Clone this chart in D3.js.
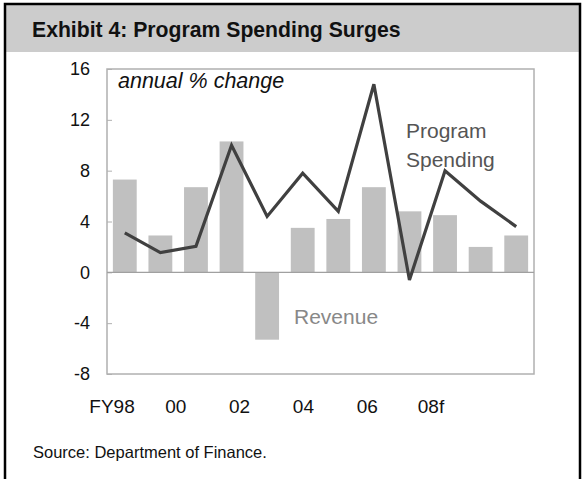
<!DOCTYPE html>
<html>
<head>
<meta charset="utf-8">
<script src="https://cdn.jsdelivr.net/npm/d3@7"></script>
<style>
  body { margin: 0; background: #fff; }
  svg text { font-family: "Liberation Sans", Arial, sans-serif; }
</style>
</head>
<body>
<div id="chart"></div>
<script>
// data
var years = ["98", "99", "00", "01", "02", "03", "04", "05", "06", "07", "08", "09"];
var revenue = [7.3, 2.9, 6.7, 10.3, -5.3, 3.5, 4.2, 6.7, 4.8, 4.5, 2.0, 2.9];
var spending = [3.1, 1.55, 2.05, 10.0, 4.4, 7.8, 4.8, 14.8, -0.6, 8.0, 5.6, 3.6];
var yTicks = [-8, -4, 0, 4, 8, 12, 16];
var xLabels = ["FY98", "00", "02", "04", "06", "08f"];

var W = 582, H = 479;
var plot = {left: 107, right: 534, top: 69, bottom: 374};

var svg = d3.select("#chart").append("svg")
  .attr("width", W)
  .attr("height", H);

// frame + title band
svg.append("rect")
  .attr("x", 0).attr("y", 0)
  .attr("width", W).attr("height", H)
  .style("fill", "#fff");

svg.append("rect")
  .attr("x", 5).attr("y", 4)
  .attr("width", 575).attr("height", 48)
  .style("fill", "#cccccc");

svg.append("path")
  .attr("d", "M5," + H + "V4H580V" + H)
  .style("fill", "none")
  .style("stroke", "#000")
  .style("stroke-width", 2.5);

svg.append("text")
  .attr("x", 32)
  .attr("y", 37)
  .style("font-size", "21.2px")
  .style("font-weight", "bold")
  .style("fill", "#111")
  .text("Exhibit 4: Program Spending Surges");

// scales
var x = d3.scaleBand()
  .domain(years)
  .range([plot.left, plot.right])
  .paddingInner(0.33)
  .paddingOuter(0.165);

var y = d3.scaleLinear()
  .domain([-8, 16])
  .range([plot.bottom, plot.top]);

// x labels sit on their own spacing, as in the original
var xl = d3.scalePoint()
  .domain(xLabels)
  .range([112, 431]);

// plot box
svg.append("rect")
  .attr("x", plot.left)
  .attr("y", plot.top)
  .attr("width", plot.right - plot.left)
  .attr("height", plot.bottom - plot.top)
  .style("fill", "none")
  .style("stroke", "#b0b0b0")
  .style("stroke-width", 1.5);

// y axis
var yAxis = d3.axisLeft(y)
  .tickValues(yTicks)
  .tickFormat(function(d){ return String(d); })
  .tickSizeInner(-5)
  .tickSizeOuter(0)
  .tickPadding(17);

var ya = svg.append("g")
  .attr("transform", "translate(" + plot.left + ",0)")
  .call(yAxis);
ya.select(".domain").remove();
ya.selectAll("line").style("stroke", "#b0b0b0");
ya.selectAll("text")
  .style("font-size", "18px")
  .style("fill", "#111");

// bars
svg.append("g").selectAll("rect")
    .data(revenue)
  .enter().append("rect")
    .attr("x", function(d, i){ return x(years[i]); })
    .attr("width", x.bandwidth())
    .attr("y", function(d){ return y(Math.max(0, d)); })
    .attr("height", function(d){ return Math.abs(y(d) - y(0)); })
    .style("fill", "#c0c0c0");

// zero line
svg.append("line")
  .attr("x1", plot.left).attr("x2", plot.right)
  .attr("y1", y(0)).attr("y2", y(0))
  .style("stroke", "#a0a0a0")
  .style("stroke-width", 1.2);

// spending line
var line = d3.line()
  .x(function(d, i){ return x(years[i]) + x.bandwidth() / 2; })
  .y(function(d){ return y(d); });

svg.append("path")
  .datum(spending)
  .attr("d", line)
  .style("fill", "none")
  .style("stroke", "#404040")
  .style("stroke-width", 3.2)
  .style("stroke-linejoin", "miter");

// x labels
svg.append("g").selectAll("text")
    .data(xLabels)
  .enter().append("text")
    .attr("x", function(d){ return xl(d); })
    .attr("y", 413)
    .attr("text-anchor", "middle")
    .style("font-size", "19px")
    .style("fill", "#111")
    .text(function(d){ return d; });

// annotations
svg.append("text")
  .attr("x", 118).attr("y", 88)
  .style("font-size", "21.5px")
  .style("font-style", "italic")
  .style("fill", "#111")
  .text("annual % change");

var ps = svg.append("text")
  .style("font-size", "21px")
  .style("fill", "#555");
ps.append("tspan").attr("x", 406).attr("y", 138).text("Program");
ps.append("tspan").attr("x", 406).attr("y", 167).text("Spending");

svg.append("text")
  .attr("x", 294).attr("y", 324)
  .style("font-size", "21px")
  .style("fill", "#888")
  .text("Revenue");

svg.append("text")
  .attr("x", 33).attr("y", 458)
  .style("font-size", "16.5px")
  .style("fill", "#111")
  .text("Source: Department of Finance.");
</script>
</body>
</html>
